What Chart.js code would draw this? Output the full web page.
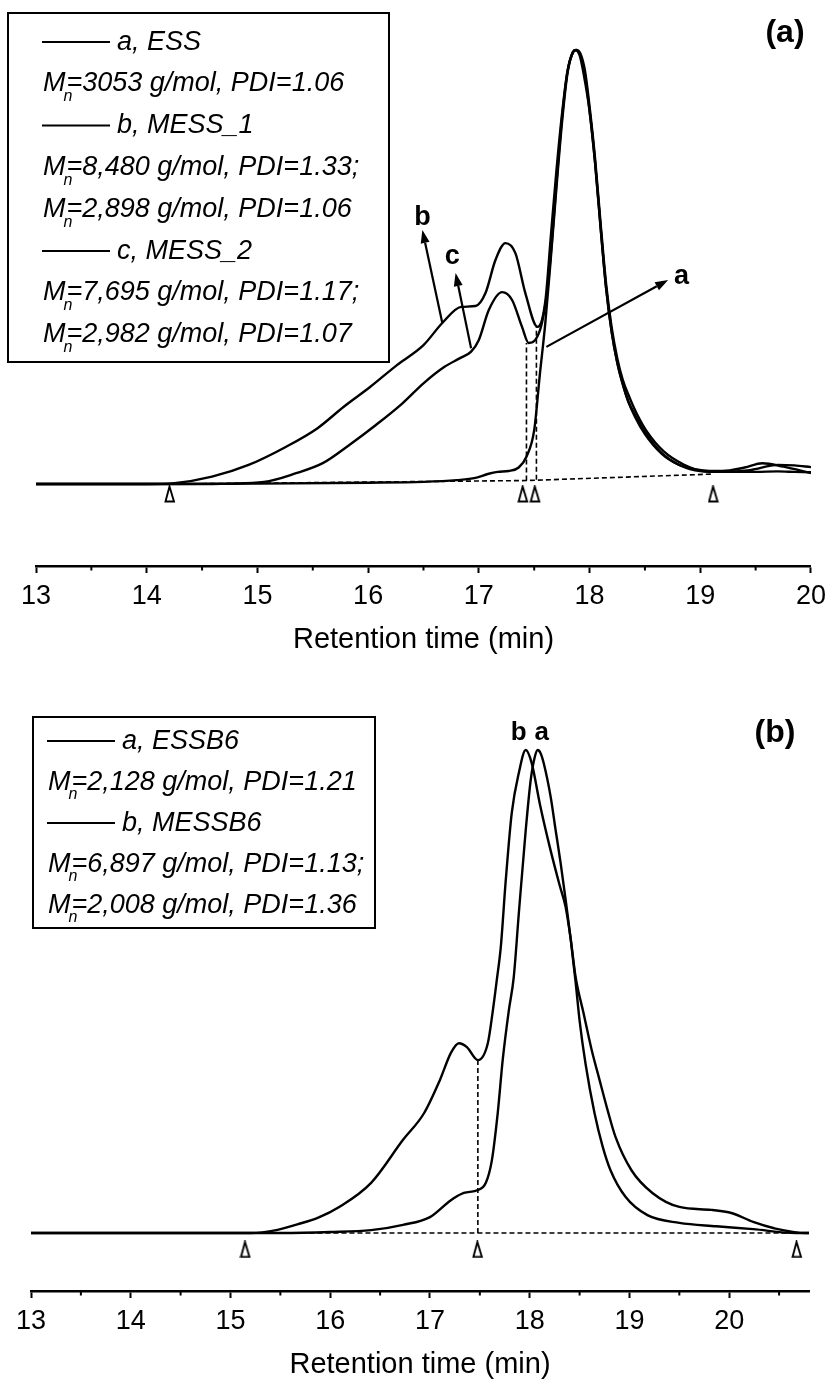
<!DOCTYPE html>
<html>
<head>
<meta charset="utf-8">
<title>GPC traces</title>
<script src="https://cdn.jsdelivr.net/npm/chart.js@4/dist/chart.umd.min.js"></script>
<style>
  html, body { margin: 0; padding: 0; background: #fff; }
  #page { position: relative; width: 833px; height: 1383px; overflow: hidden; }
  #page canvas { position: absolute; left: 0; }
</style>
</head>
<body>
<div id="page">
  <canvas id="chart-a" width="833" height="670" style="top:0px"></canvas>
  <canvas id="chart-b" width="833" height="713" style="top:670px"></canvas>
</div>
<script>
// ---- panel (a): ESS, MESS_1, MESS_2 ----
const essTime = [13.0, 14.0, 15.0, 16.0, 16.5, 16.8, 16.97, 17.08, 17.17, 17.27, 17.36, 17.43, 17.50, 17.55, 17.60, 17.65, 17.70, 17.75, 17.80, 17.85, 17.88, 17.92, 17.96, 18.00, 18.05, 18.10, 18.15, 18.20, 18.25, 18.30, 18.35, 18.41, 18.50, 18.65, 18.80, 18.95, 19.10, 19.30, 19.50, 19.70, 19.85, 20.0];
const essSignal = [0, 0, 0.1, 0.3, 0.5, 0.9, 1.4, 2.3, 2.8, 3.0, 3.8, 6.3, 12.4, 25, 37, 52, 68, 83, 94.5, 99.5, 100, 98.5, 94, 86, 74, 59, 45, 35, 28, 23, 19, 15.5, 11.5, 7.0, 4.5, 3.4, 2.9, 2.8, 2.8, 2.9, 2.8, 2.7];

const mess1Time = [13.0, 14.0, 14.25, 14.59, 14.92, 15.26, 15.54, 15.78, 16.02, 16.26, 16.50, 16.67, 16.84, 16.97, 17.06, 17.15, 17.24, 17.33, 17.42, 17.53, 17.60, 17.65, 17.70, 17.75, 17.80, 17.85, 17.88, 17.92, 17.96, 18.00, 18.05, 18.10, 18.15, 18.20, 18.25, 18.30, 18.36, 18.43, 18.52, 18.67, 18.85, 19.03, 19.20, 19.40, 19.56, 19.75, 20.0];
const mess1Signal = [0, 0, 0.2, 1.7, 4.4, 8.6, 12.8, 17.8, 22.4, 27.4, 32.0, 37.1, 40.8, 41.0, 44.0, 51.6, 55.5, 53.2, 44.0, 36.2, 42, 57, 72, 85, 95, 99.5, 100, 99, 95, 87, 75, 60, 46, 36, 29, 24, 20, 16, 12, 7.5, 4.5, 3.0, 3.0, 3.8, 4.8, 4.0, 2.5];

const mess2Time = [13.0, 14.5, 15.06, 15.35, 15.59, 15.83, 16.07, 16.31, 16.50, 16.69, 16.83, 16.93, 17.00, 17.09, 17.21, 17.30, 17.39, 17.45, 17.51, 17.57, 17.62, 17.66, 17.70, 17.75, 17.80, 17.85, 17.87, 17.91, 17.95, 18.00, 18.05, 18.10, 18.15, 18.20, 18.25, 18.30, 18.35, 18.42, 18.50, 18.65, 18.82, 19.00, 19.20, 19.45, 19.70, 19.85, 20.0];
const mess2Signal = [0, 0, 0.5, 2.5, 4.8, 9.0, 13.6, 18.6, 23.2, 27.0, 29.0, 30.5, 33.2, 40.1, 44.2, 42.4, 36.2, 32.5, 33.2, 37.1, 45, 56, 69, 84, 95, 99.5, 100, 98.8, 94, 86, 74, 59, 45, 35, 28, 23, 19, 15.5, 12, 7.2, 4.3, 3.0, 2.8, 3.2, 4.4, 4.3, 3.9];

// integration baseline and peak cut marks
const baseATime = [14.21, 17.43, 19.12];
const baseASignal = [0, 0.8, 2.3];
const cutATime = [17.43, 17.52];
const cutALow = [0.8, 1.0];
const cutAHigh = [32.5, 36.2];
const markATime = [14.21, 17.40, 17.51, 19.12];

// ---- panel (b): ESSB6, MESSB6 ----
const essb6Time = [13.0, 15.5, 16.0, 16.41, 16.73, 17.00, 17.21, 17.34, 17.48, 17.56, 17.62, 17.68, 17.73, 17.79, 17.84, 17.89, 17.96, 18.01, 18.05, 18.08, 18.11, 18.14, 18.21, 18.26, 18.31, 18.36, 18.41, 18.46, 18.50, 18.56, 18.65, 18.73, 18.81, 18.96, 19.18, 19.50, 19.87, 20.24, 20.67, 20.8];
const essb6Signal = [0, 0, 0.2, 0.6, 1.7, 3.3, 6.8, 8.3, 8.9, 10.4, 15, 25, 36, 46, 53, 66, 83.4, 93.8, 98.5, 100, 99.3, 97.3, 90.3, 83.4, 76.6, 69.0, 61, 52, 44, 35, 24.8, 18, 13, 7.5, 3.7, 2.1, 1.4, 0.8, 0, 0];

const messb6Time = [13.0, 15.2, 15.46, 15.67, 15.88, 16.09, 16.41, 16.73, 16.94, 17.10, 17.21, 17.29, 17.37, 17.48, 17.58, 17.63, 17.67, 17.71, 17.76, 17.82, 17.89, 17.96, 18.02, 18.10, 18.20, 18.30, 18.36, 18.41, 18.46, 18.54, 18.62, 18.70, 18.78, 18.86, 19.02, 19.23, 19.50, 19.82, 20.03, 20.24, 20.45, 20.77, 20.8];
const messb6Signal = [0, 0, 0.6, 1.8, 3.2, 5.4, 10.4, 19.3, 24.8, 31.7, 37.3, 39.3, 38.5, 35.8, 39.3, 46, 52.4, 59.2, 73.1, 87.0, 95.2, 100, 97.3, 89, 80, 72, 67.5, 61, 53, 45.5, 38, 31.7, 25.5, 19.9, 13.0, 8.3, 5.4, 4.8, 4.1, 2.3, 1.0, 0, 0];

const baseBTime = [15.15, 20.70];
const baseBSignal = [0, 0];
const cutBTime = [17.48];
const cutBLow = [0];
const cutBHigh = [35.8];
const markBTime = [15.15, 17.48, 20.68];

const legendA = [
  { line: true, text: 'a, ESS' },
  { text: '=3053 g/mol, PDI=1.06' },
  { line: true, text: 'b, MESS_1' },
  { text: '=8,480 g/mol, PDI=1.33;' },
  { text: '=2,898 g/mol, PDI=1.06' },
  { line: true, text: 'c, MESS_2' },
  { text: '=7,695 g/mol, PDI=1.17;' },
  { text: '=2,982 g/mol, PDI=1.07' }
];
const legendB = [
  { line: true, text: 'a, ESSB6' },
  { text: '=2,128 g/mol, PDI=1.21' },
  { line: true, text: 'b, MESSB6' },
  { text: '=6,897 g/mol, PDI=1.13;' },
  { text: '=2,008 g/mol, PDI=1.36' }
];

const FONT = '"Liberation Sans", Arial, Helvetica, sans-serif';
const INK = '#000';

// narrow open triangle used for the integration marks
function makeMarker() {
  const c = document.createElement('canvas');
  c.width = 12; c.height = 18;
  const g = c.getContext('2d');
  g.lineWidth = 1.9;
  g.strokeStyle = INK;
  g.fillStyle = '#fff';
  g.beginPath();
  g.moveTo(5.5, 1.5);
  g.lineTo(10.0, 16.5);
  g.lineTo(1.5, 16.5);
  g.closePath();
  g.fill();
  g.stroke();
  return c;
}
const markerImage = makeMarker();

function pts(ts, vs) {
  return ts.map((t, i) => ({ x: t, y: vs[i] }));
}

function trace(ts, vs) {
  return {
    data: pts(ts, vs),
    borderColor: INK,
    borderWidth: 2.4,
    pointRadius: 0,
    cubicInterpolationMode: 'monotone',
    fill: false
  };
}

function dashed(points) {
  return {
    data: points,
    borderColor: INK,
    borderWidth: 1.6,
    borderDash: [5, 3],
    pointRadius: 0,
    tension: 0,
    fill: false
  };
}

function marks(ts, y) {
  return {
    data: ts.map(t => ({ x: t, y: y })),
    showLine: false,
    pointStyle: markerImage,
    pointRadius: 8,
    borderColor: INK
  };
}

function cuts(ts, lo, hi) {
  return ts.map((t, i) => dashed([{ x: t, y: lo[i] }, { x: t, y: hi[i] }]));
}

function drawArrow(ctx, x0, y0, x1, y1) {
  const a = Math.atan2(y1 - y0, x1 - x0);
  const len = 13, half = 4.5;
  const bx = x1 - len * Math.cos(a), by = y1 - len * Math.sin(a);
  ctx.lineWidth = 2.2;
  ctx.beginPath();
  ctx.moveTo(x0, y0);
  ctx.lineTo(bx, by);
  ctx.stroke();
  ctx.beginPath();
  ctx.moveTo(x1, y1);
  ctx.lineTo(bx + half * Math.sin(a), by - half * Math.cos(a));
  ctx.lineTo(bx - half * Math.sin(a), by + half * Math.cos(a));
  ctx.closePath();
  ctx.fill();
}

// legend box: sample lines with names, then M_n / PDI rows
function drawLegend(ctx, box, rows, lay) {
  ctx.lineWidth = 2;
  ctx.strokeRect(box[0], box[1], box[2] - box[0], box[3] - box[1]);
  ctx.textBaseline = 'middle';
  ctx.textAlign = 'left';
  rows.forEach((r, i) => {
    const y = lay.y0 + lay.step * i;
    ctx.font = 'italic 27px ' + FONT;
    if (r.line) {
      ctx.lineWidth = 2;
      ctx.beginPath();
      ctx.moveTo(lay.lineX0, y);
      ctx.lineTo(lay.lineX1, y);
      ctx.stroke();
      ctx.fillText(r.text, lay.textX, y);
    } else {
      ctx.fillText('M', lay.mX, y);
      const w = ctx.measureText('M').width;
      ctx.fillText(r.text, lay.mX + w + 1, y);
      ctx.font = 'italic 16px ' + FONT;
      ctx.fillText('n', lay.mX + w - 2, y + 13);
    }
  });
}

// minor ticks at the half minutes
function drawMinorTicks(chart) {
  const ctx = chart.ctx, sx = chart.scales.x;
  const y = chart.chartArea.bottom;
  ctx.lineWidth = 2;
  for (let v = sx.min + 0.5; v < sx.max; v += 1) {
    const x = sx.getPixelForValue(v);
    ctx.beginPath();
    ctx.moveTo(x, y);
    ctx.lineTo(x, y + 4.5);
    ctx.stroke();
  }
}

function annotations(draw) {
  return {
    id: 'annotations',
    afterDraw(chart) {
      const ctx = chart.ctx;
      const sx = chart.scales.x, sy = chart.scales.y;
      const px = (t, v) => [sx.getPixelForValue(t), sy.getPixelForValue(v)];
      ctx.save();
      ctx.strokeStyle = INK;
      ctx.fillStyle = INK;
      drawMinorTicks(chart);
      draw(ctx, px);
      ctx.restore();
    }
  };
}

function xScale(max) {
  return {
    type: 'linear',
    min: 13,
    max: max,
    afterFit(scale) { scale.height = 91; },
    border: { display: true, color: INK, width: 2.5 },
    grid: { drawOnChartArea: false, drawTicks: true, tickLength: 7, tickWidth: 2, tickColor: INK },
    ticks: {
      stepSize: 1,
      includeBounds: false,
      autoSkip: false,
      maxRotation: 0,
      padding: 7,
      color: INK,
      font: { family: FONT, size: 27 }
    },
    title: {
      display: true,
      text: 'Retention time (min)',
      color: INK,
      padding: 0,
      font: { family: FONT, size: 29 }
    }
  };
}

function baseOptions(xmax, ymin, ymax, padding) {
  return {
    responsive: false,
    animation: false,
    events: [],
    layout: { padding: padding },
    plugins: { legend: { display: false }, tooltip: { enabled: false } },
    scales: {
      x: xScale(xmax),
      y: { type: 'linear', display: false, min: ymin, max: ymax }
    }
  };
}

new Chart(document.getElementById('chart-a'), {
  type: 'line',
  data: {
    datasets: [
      trace(essTime, essSignal),
      trace(mess1Time, mess1Signal),
      trace(mess2Time, mess2Signal),
      dashed(pts(baseATime, baseASignal)),
      ...cuts(cutATime, cutALow, cutAHigh),
      marks(markATime, -2.3)
    ]
  },
  options: baseOptions(20, -18.89, 108.29, { left: 36, right: 20, top: 14, bottom: 13 }),
  plugins: [annotations((ctx, px) => {
    drawLegend(ctx, [8, 13, 389, 362], legendA,
      { y0: 42, step: 41.8, lineX0: 42, lineX1: 110, textX: 117, mX: 43 });

    ctx.font = 'bold 32px ' + FONT;
    ctx.textAlign = 'center';
    ctx.textBaseline = 'middle';
    ctx.fillText('(a)', 785, 33);

    drawArrow(ctx, ...px(16.67, 37.1), ...px(16.49, 58.5));
    drawArrow(ctx, ...px(16.93, 31.3), ...px(16.79, 48.6));
    drawArrow(ctx, ...px(17.61, 31.6), ...px(18.71, 47.0));
    ctx.font = 'bold 27px ' + FONT;
    ctx.fillText('b', ...px(16.49, 61.5));
    ctx.fillText('c', ...px(16.76, 52.3));
    ctx.fillText('a', ...px(18.83, 47.7));
  })]
});

new Chart(document.getElementById('chart-b'), {
  type: 'line',
  data: {
    datasets: [
      trace(essb6Time, essb6Signal),
      trace(messb6Time, messb6Signal),
      dashed(pts(baseBTime, baseBSignal)),
      ...cuts(cutBTime, cutBLow, cutBHigh),
      marks(markBTime, -3.4)
    ]
  },
  options: baseOptions(20.8, -12.0, 114.5, { left: 31, right: 24, top: 10, bottom: 1 }),
  plugins: [annotations((ctx, px) => {
    drawLegend(ctx, [33, 47, 375, 258], legendB,
      { y0: 71, step: 41, lineX0: 47, lineX1: 115, textX: 122, mX: 48 });

    ctx.font = 'bold 32px ' + FONT;
    ctx.textAlign = 'center';
    ctx.textBaseline = 'middle';
    ctx.fillText('(b)', 775, 63);

    ctx.font = 'bold 26px ' + FONT;
    ctx.fillText('b', ...px(17.89, 103.5));
    ctx.fillText('a', ...px(18.12, 103.5));
  })]
});
</script>
</body>
</html>
